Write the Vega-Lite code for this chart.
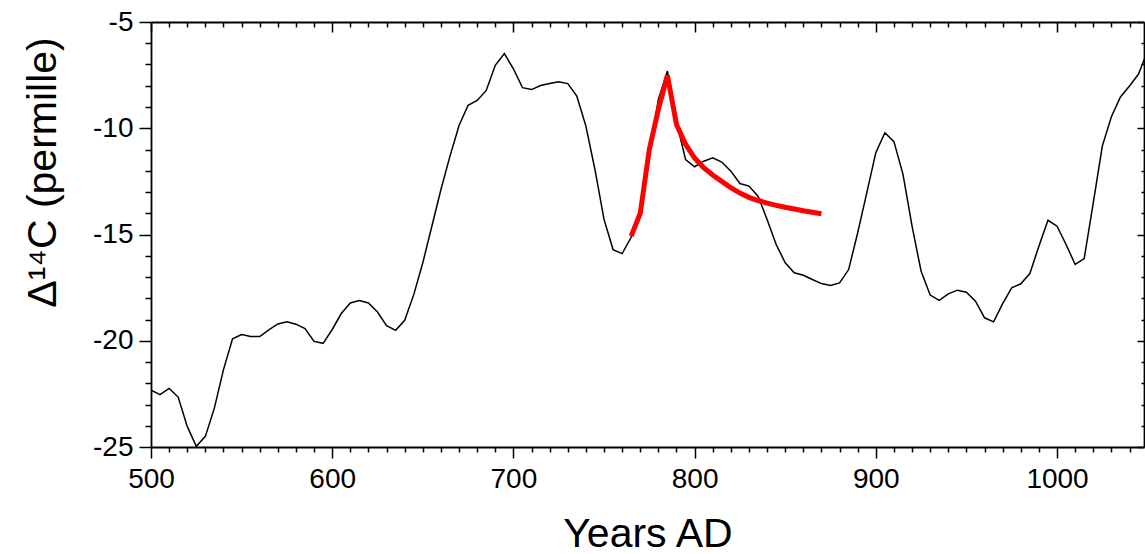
{
  "$schema": "https://vega.github.io/schema/vega-lite/v6.json",
  "width": 993,
  "height": 425,
  "autosize": {"type": "none"},
  "padding": {"left": 151, "top": 22, "right": 1, "bottom": 107},
  "background": "white",
  "config": {
    "view": {"stroke": null},
    "font": "Liberation Sans",
    "axis": {
      "domainColor": "black",
      "domainWidth": 1.8,
      "tickColor": "black",
      "tickWidth": 1.5,
      "grid": false,
      "labelFont": "Liberation Sans",
      "titleFont": "Liberation Sans",
      "labelColor": "black",
      "titleColor": "black",
      "labelFontSize": 28,
      "titleFontSize": 41,
      "titleFontWeight": "normal",
      "labelFlush": false,
      "labelOverlap": false
    }
  },
  "data": {
    "values": [
      {"year": 500, "value": -22.33, "series": "tree"},
      {"year": 505, "value": -22.54, "series": "tree"},
      {"year": 510, "value": -22.24, "series": "tree"},
      {"year": 515, "value": -22.65, "series": "tree"},
      {"year": 520, "value": -24.03, "series": "tree"},
      {"year": 525, "value": -24.97, "series": "tree"},
      {"year": 530, "value": -24.5, "series": "tree"},
      {"year": 535, "value": -23.16, "series": "tree"},
      {"year": 540, "value": -21.36, "series": "tree"},
      {"year": 545, "value": -19.91, "series": "tree"},
      {"year": 550, "value": -19.71, "series": "tree"},
      {"year": 555, "value": -19.8, "series": "tree"},
      {"year": 560, "value": -19.8, "series": "tree"},
      {"year": 565, "value": -19.49, "series": "tree"},
      {"year": 570, "value": -19.21, "series": "tree"},
      {"year": 575, "value": -19.11, "series": "tree"},
      {"year": 580, "value": -19.22, "series": "tree"},
      {"year": 585, "value": -19.43, "series": "tree"},
      {"year": 590, "value": -20.03, "series": "tree"},
      {"year": 595, "value": -20.12, "series": "tree"},
      {"year": 600, "value": -19.47, "series": "tree"},
      {"year": 605, "value": -18.72, "series": "tree"},
      {"year": 610, "value": -18.22, "series": "tree"},
      {"year": 615, "value": -18.11, "series": "tree"},
      {"year": 620, "value": -18.22, "series": "tree"},
      {"year": 625, "value": -18.65, "series": "tree"},
      {"year": 630, "value": -19.29, "series": "tree"},
      {"year": 635, "value": -19.51, "series": "tree"},
      {"year": 640, "value": -19.04, "series": "tree"},
      {"year": 645, "value": -17.83, "series": "tree"},
      {"year": 650, "value": -16.33, "series": "tree"},
      {"year": 655, "value": -14.61, "series": "tree"},
      {"year": 660, "value": -12.88, "series": "tree"},
      {"year": 665, "value": -11.31, "series": "tree"},
      {"year": 670, "value": -9.87, "series": "tree"},
      {"year": 675, "value": -8.92, "series": "tree"},
      {"year": 680, "value": -8.69, "series": "tree"},
      {"year": 685, "value": -8.22, "series": "tree"},
      {"year": 690, "value": -7.04, "series": "tree"},
      {"year": 695, "value": -6.49, "series": "tree"},
      {"year": 700, "value": -7.2, "series": "tree"},
      {"year": 705, "value": -8.09, "series": "tree"},
      {"year": 710, "value": -8.18, "series": "tree"},
      {"year": 715, "value": -7.99, "series": "tree"},
      {"year": 720, "value": -7.89, "series": "tree"},
      {"year": 725, "value": -7.81, "series": "tree"},
      {"year": 730, "value": -7.9, "series": "tree"},
      {"year": 735, "value": -8.49, "series": "tree"},
      {"year": 740, "value": -9.9, "series": "tree"},
      {"year": 745, "value": -11.94, "series": "tree"},
      {"year": 750, "value": -14.29, "series": "tree"},
      {"year": 755, "value": -15.71, "series": "tree"},
      {"year": 760, "value": -15.9, "series": "tree"},
      {"year": 765, "value": -15.13, "series": "tree"},
      {"year": 770, "value": -13.9, "series": "tree"},
      {"year": 775, "value": -11.2, "series": "tree"},
      {"year": 780, "value": -8.64, "series": "tree"},
      {"year": 785, "value": -7.31, "series": "tree"},
      {"year": 790, "value": -9.7, "series": "tree"},
      {"year": 795, "value": -11.47, "series": "tree"},
      {"year": 800, "value": -11.81, "series": "tree"},
      {"year": 805, "value": -11.55, "series": "tree"},
      {"year": 810, "value": -11.39, "series": "tree"},
      {"year": 815, "value": -11.59, "series": "tree"},
      {"year": 820, "value": -12.02, "series": "tree"},
      {"year": 825, "value": -12.6, "series": "tree"},
      {"year": 830, "value": -12.72, "series": "tree"},
      {"year": 835, "value": -13.2, "series": "tree"},
      {"year": 840, "value": -14.29, "series": "tree"},
      {"year": 845, "value": -15.47, "series": "tree"},
      {"year": 850, "value": -16.33, "series": "tree"},
      {"year": 855, "value": -16.8, "series": "tree"},
      {"year": 860, "value": -16.92, "series": "tree"},
      {"year": 865, "value": -17.12, "series": "tree"},
      {"year": 870, "value": -17.31, "series": "tree"},
      {"year": 875, "value": -17.4, "series": "tree"},
      {"year": 880, "value": -17.28, "series": "tree"},
      {"year": 885, "value": -16.65, "series": "tree"},
      {"year": 890, "value": -14.92, "series": "tree"},
      {"year": 895, "value": -13.04, "series": "tree"},
      {"year": 900, "value": -11.15, "series": "tree"},
      {"year": 905, "value": -10.21, "series": "tree"},
      {"year": 910, "value": -10.63, "series": "tree"},
      {"year": 915, "value": -12.17, "series": "tree"},
      {"year": 920, "value": -14.61, "series": "tree"},
      {"year": 925, "value": -16.73, "series": "tree"},
      {"year": 930, "value": -17.85, "series": "tree"},
      {"year": 935, "value": -18.1, "series": "tree"},
      {"year": 940, "value": -17.79, "series": "tree"},
      {"year": 945, "value": -17.62, "series": "tree"},
      {"year": 950, "value": -17.72, "series": "tree"},
      {"year": 955, "value": -18.14, "series": "tree"},
      {"year": 960, "value": -18.92, "series": "tree"},
      {"year": 965, "value": -19.11, "series": "tree"},
      {"year": 970, "value": -18.25, "series": "tree"},
      {"year": 975, "value": -17.51, "series": "tree"},
      {"year": 980, "value": -17.32, "series": "tree"},
      {"year": 985, "value": -16.84, "series": "tree"},
      {"year": 990, "value": -15.55, "series": "tree"},
      {"year": 995, "value": -14.33, "series": "tree"},
      {"year": 1000, "value": -14.61, "series": "tree"},
      {"year": 1005, "value": -15.47, "series": "tree"},
      {"year": 1010, "value": -16.41, "series": "tree"},
      {"year": 1015, "value": -16.13, "series": "tree"},
      {"year": 1020, "value": -13.51, "series": "tree"},
      {"year": 1025, "value": -10.84, "series": "tree"},
      {"year": 1030, "value": -9.46, "series": "tree"},
      {"year": 1035, "value": -8.53, "series": "tree"},
      {"year": 1040, "value": -8.01, "series": "tree"},
      {"year": 1045, "value": -7.45, "series": "tree"},
      {"year": 1050, "value": -6.35, "series": "tree"},
      {"year": 765, "value": -15.08, "series": "model"},
      {"year": 770, "value": -14.0, "series": "model"},
      {"year": 775, "value": -11.0, "series": "model"},
      {"year": 780, "value": -9.11, "series": "model"},
      {"year": 785, "value": -7.51, "series": "model"},
      {"year": 790, "value": -9.82, "series": "model"},
      {"year": 795, "value": -10.75, "series": "model"},
      {"year": 800, "value": -11.4, "series": "model"},
      {"year": 805, "value": -11.85, "series": "model"},
      {"year": 810, "value": -12.2, "series": "model"},
      {"year": 815, "value": -12.5, "series": "model"},
      {"year": 820, "value": -12.8, "series": "model"},
      {"year": 825, "value": -13.05, "series": "model"},
      {"year": 830, "value": -13.25, "series": "model"},
      {"year": 835, "value": -13.4, "series": "model"},
      {"year": 840, "value": -13.52, "series": "model"},
      {"year": 845, "value": -13.63, "series": "model"},
      {"year": 850, "value": -13.72, "series": "model"},
      {"year": 855, "value": -13.8, "series": "model"},
      {"year": 860, "value": -13.88, "series": "model"},
      {"year": 865, "value": -13.95, "series": "model"},
      {"year": 870, "value": -14.02, "series": "model"}
    ]
  },
  "resolve": {"axis": {"x": "independent", "y": "independent"}},
  "layer": [
    {
      "transform": [{"filter": "datum.series === 'tree'"}],
      "mark": {"type": "line", "color": "black", "strokeWidth": 1.5, "clip": true},
      "encoding": {
        "x": {
          "field": "year",
          "type": "quantitative",
          "scale": {"domain": [500, 1048], "nice": false, "zero": false},
          "axis": {
            "orient": "bottom",
            "title": "Years AD",
            "titlePadding": 21,
            "format": "d",
            "values": [500,510,520,530,540,550,560,570,580,590,600,610,620,630,640,650,660,670,680,690,700,710,720,730,740,750,760,770,780,790,800,810,820,830,840,850,860,870,880,890,900,910,920,930,940,950,960,970,980,990,1000,1010,1020,1030,1040],
            "labelExpr": "datum.value % 100 === 0 ? datum.label : ''",
            "tickSize": {"condition": {"test": "datum.value % 100 === 0", "value": 11}, "value": 5},
            "labelPadding": 7
          }
        },
        "y": {
          "field": "value",
          "type": "quantitative",
          "scale": {"domain": [-25, -5], "nice": false, "zero": false},
          "axis": {
            "orient": "left",
            "title": "Δ¹⁴C (permille)",
            "titlePadding": 28,
            "titleY": 150,
            "values": [-25,-24,-23,-22,-21,-20,-19,-18,-17,-16,-15,-14,-13,-12,-11,-10,-9,-8,-7,-6,-5],
            "labelExpr": "datum.value % 5 === 0 ? '' + datum.value : ''",
            "tickSize": {"condition": {"test": "datum.value % 5 === 0", "value": 12}, "value": 6},
            "labelPadding": 6
          }
        }
      }
    },
    {
      "transform": [{"filter": "datum.series === 'model'"}],
      "mark": {"type": "line", "color": "#ff0000", "strokeWidth": 5, "clip": true},
      "encoding": {
        "x": {
          "field": "year",
          "type": "quantitative",
          "axis": {
            "orient": "top",
            "title": null,
            "labels": false,
            "values": [500,510,520,530,540,550,560,570,580,590,600,610,620,630,640,650,660,670,680,690,700,710,720,730,740,750,760,770,780,790,800,810,820,830,840,850,860,870,880,890,900,910,920,930,940,950,960,970,980,990,1000,1010,1020,1030,1040],
            "tickSize": {"condition": {"test": "datum.value % 100 === 0", "value": -10}, "value": -5}
          }
        },
        "y": {
          "field": "value",
          "type": "quantitative",
          "axis": {
            "orient": "right",
            "title": null,
            "labels": false,
            "values": [-25,-24,-23,-22,-21,-20,-19,-18,-17,-16,-15,-14,-13,-12,-11,-10,-9,-8,-7,-6,-5],
            "tickSize": {"condition": {"test": "datum.value % 5 === 0", "value": -7}, "value": -3}
          }
        }
      }
    }
  ]
}
